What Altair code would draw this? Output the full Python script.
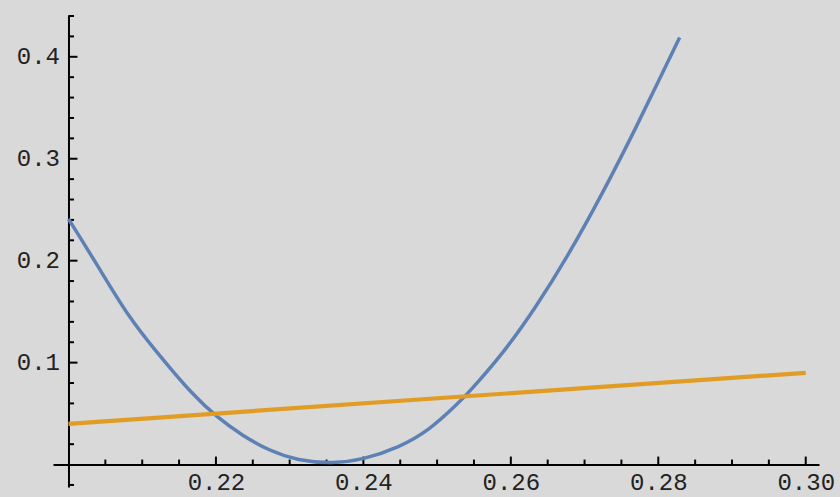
import altair as alt
import pandas as pd

# Blue curve, sampled along its path
curve_x = [0.2000, 0.2038, 0.2083, 0.2122, 0.2137, 0.2168, 0.2200, 0.2236,
           0.2272, 0.2311, 0.2358, 0.2399, 0.2449, 0.2489, 0.2530, 0.2543,
           0.2589, 0.2634, 0.2679, 0.2724, 0.2770, 0.2806, 0.2829]
curve_y = [0.2409, 0.1971, 0.1428, 0.1085, 0.0954, 0.0693, 0.0471, 0.0284,
           0.0137, 0.0039, 0.0010, 0.0046, 0.0170, 0.0333, 0.0611, 0.0709,
           0.1085, 0.1542, 0.2065, 0.2654, 0.3307, 0.3846, 0.4189]

# Orange straight line
line_x = [0.20, 0.30]
line_y = [0.040, 0.090]

# Axis tick positions
x_major = [0.22, 0.24, 0.26, 0.28, 0.30]
x_minor = [0.205, 0.21, 0.215, 0.225, 0.23, 0.235, 0.245, 0.25, 0.255,
           0.265, 0.27, 0.275, 0.285, 0.29, 0.295]
y_major = [0.1, 0.2, 0.3, 0.4]
y_minor = [-0.02, 0.02, 0.04, 0.06, 0.08, 0.12, 0.14, 0.16, 0.18,
           0.22, 0.24, 0.26, 0.28, 0.32, 0.34, 0.36, 0.38, 0.42, 0.44]

X_DOMAIN = [0.1979, 0.3018]
Y_DOMAIN = [-0.022, 0.441]
W, H = 766, 472

LABEL_FONT = "Liberation Mono"
LABEL_SIZE = 24
INK = "#222222"

# pixel offsets that bring the axes to the origin (x=0.2, y=0)
x_axis_shift = -(0 - Y_DOMAIN[0]) / (Y_DOMAIN[1] - Y_DOMAIN[0]) * H
y_axis_shift = -(0.2 - X_DOMAIN[0]) / (X_DOMAIN[1] - X_DOMAIN[0]) * W

X_AXIS = alt.Axis(
    values=x_major, format=".2f", ticks=False, grid=False,
    domainColor="black", domainWidth=2, offset=x_axis_shift,
    labelFont=LABEL_FONT, labelFontSize=LABEL_SIZE, labelColor=INK,
    labelPadding=6, labelFlush=False, labelOverlap=False, title=None)
Y_AXIS = alt.Axis(
    values=y_major, format=".1f", ticks=False, grid=False,
    domainColor="black", domainWidth=2, offset=y_axis_shift,
    labelFont=LABEL_FONT, labelFontSize=LABEL_SIZE, labelColor=INK,
    labelPadding=9, labelFlush=False, labelOverlap=False, title=None)


def enc_x():
    return alt.X("x:Q", scale=alt.Scale(domain=X_DOMAIN, nice=False, zero=False),
                 axis=X_AXIS)


def enc_y():
    return alt.Y("y:Q", scale=alt.Scale(domain=Y_DOMAIN, nice=False, zero=False),
                 axis=Y_AXIS)


curve_df = pd.DataFrame({"x": curve_x, "y": curve_y})
line_df = pd.DataFrame({"x": line_x, "y": line_y})

curve = alt.Chart(curve_df).mark_line(
    color="#5E81B5", strokeWidth=3.5, interpolate="basis"
).encode(x=enc_x(), y=enc_y())

straight = alt.Chart(line_df).mark_line(
    color="#E19C24", strokeWidth=4.2
).encode(x=enc_x(), y=enc_y())


def x_ticks(values, length):
    df = pd.DataFrame({"x": values, "y": [0.0] * len(values)})
    return alt.Chart(df).mark_tick(
        orient="vertical", size=length, thickness=2, color="black",
        yOffset=-length / 2, opacity=1
    ).encode(x=enc_x(), y=enc_y())


def y_ticks(values, length):
    df = pd.DataFrame({"x": [0.2] * len(values), "y": values})
    return alt.Chart(df).mark_tick(
        orient="horizontal", size=length, thickness=2, color="black",
        xOffset=length / 2, opacity=1
    ).encode(x=enc_x(), y=enc_y())


chart = alt.layer(
    x_ticks(x_major, 8), x_ticks(x_minor, 5),
    y_ticks(y_major, 9), y_ticks(y_minor, 5.5),
    curve, straight,
).properties(
    width=W, height=H,
    autosize=alt.AutoSizeParams(type="none"),
    padding={"left": 53, "top": 15, "right": 21, "bottom": 10},
    background="#d9d9d9",
).configure_view(stroke=None)

chart.save("out.html", embed_options={"renderer": "svg", "actions": False})
